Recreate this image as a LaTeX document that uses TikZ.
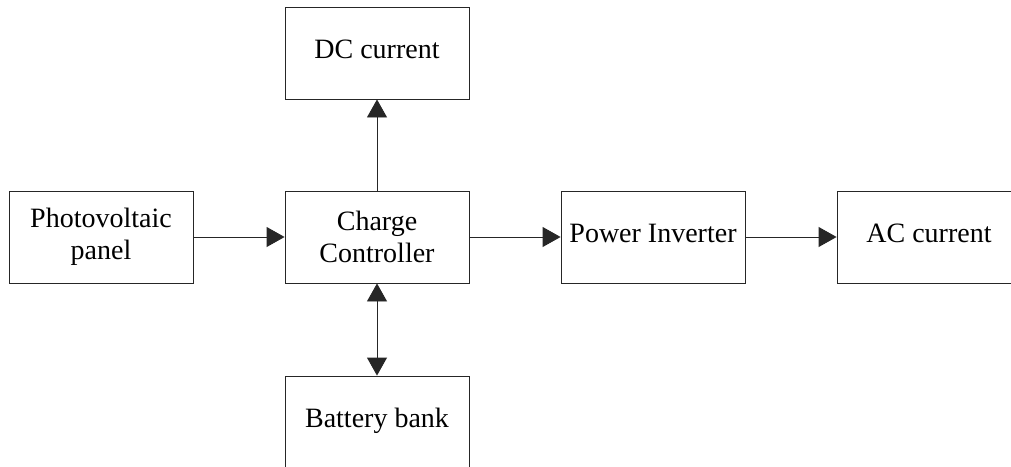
\documentclass[tikz,border=0pt]{standalone}
\usepackage{fontspec}
\setmainfont{Liberation Serif}
\newfontfamily\tnr{Liberation Serif}
\usetikzlibrary{arrows.meta}
\begin{document}
\begin{tikzpicture}[x=1pt,y=-1pt,
  blk/.style={draw=black!85,line width=0.9pt,rectangle,minimum width=184pt,minimum height=92pt,
    inner sep=0pt,align=center,font=\tnr\fontsize{28}{32}\selectfont},
  one/.style={text height=20pt,text depth=10pt},
  arr/.style={draw=black!85,line width=0.9pt,-{Triangle[length=18pt,width=20pt]}},
  darr/.style={draw=black!85,line width=0.9pt,{Triangle[length=18pt,width=20pt]}-{Triangle[length=18pt,width=20pt]}}]
\clip (0,0) rectangle (1011,466);
\fill[white] (0,0) rectangle (1011,466);
\node[blk] (pv) at (101,237) {Photovoltaic\\panel};
\node[blk] (cc) at (377,237) {Charge\\Controller};
\node[blk,one] (dc) at (377,53) {DC current};
\node[blk,one] (bb) at (377,422) {Battery bank};
\node[blk,one] (pi) at (653,237) {Power Inverter};
\node[blk,one] (ac) at (929,237) {AC current};
\draw[arr] (pv) -- (cc);
\draw[arr] (cc) -- (dc);
\draw[arr] (cc) -- (pi);
\draw[arr] (pi) -- (ac);
\draw[darr] (cc) -- (bb);
\end{tikzpicture}
\end{document}
